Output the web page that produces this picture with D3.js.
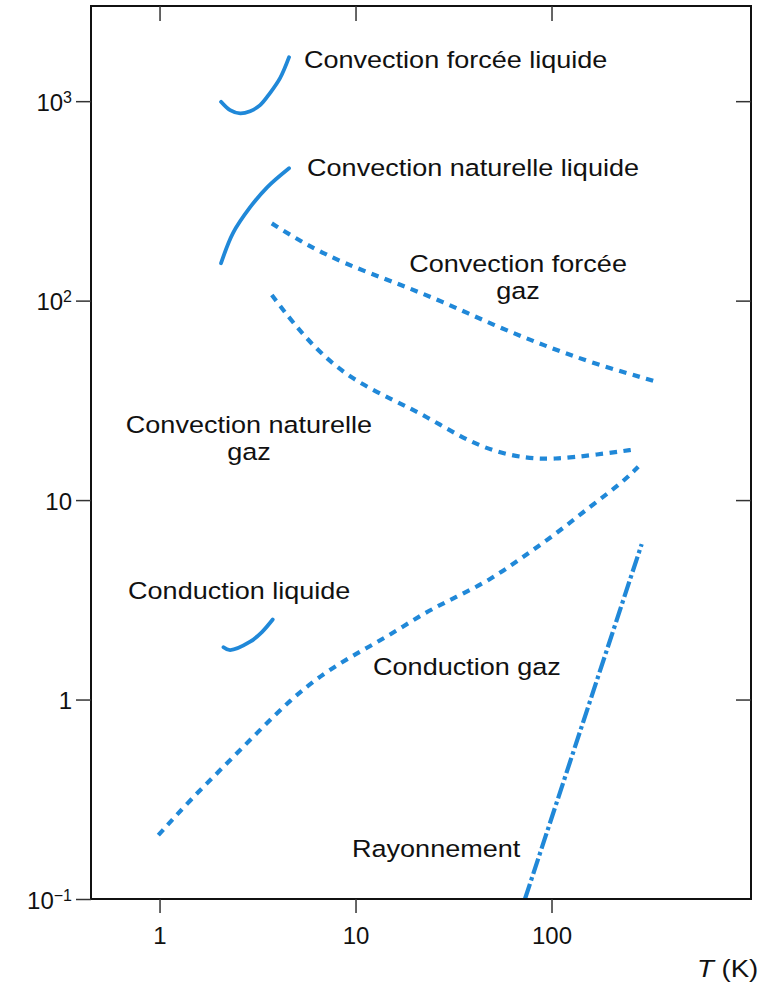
<!DOCTYPE html>
<html>
<head>
<meta charset="utf-8">
<script src="https://cdn.jsdelivr.net/npm/d3@7"></script>
<style>
  html, body { margin: 0; padding: 0; background: #ffffff; }
  svg { display: block; }
  text { font-family: "Liberation Sans", Arial, Helvetica, sans-serif; fill: #111; }
</style>
</head>
<body>
<svg id="chart" width="762" height="983"></svg>
<script>
// Coefficient d'échange thermique en fonction de la température (échelles log-log)

// Convection forcée liquide
const tForceeLiquide = [2.06, 2.29, 2.58, 2.90, 3.26, 3.66, 4.12, 4.58];
const hForceeLiquide = [992, 901, 868, 891, 955, 1097, 1304, 1662];

// Convection naturelle liquide
const tNaturelleLiquide = [2.06, 2.37, 2.90, 3.54, 4.58];
const hNaturelleLiquide = [154, 218, 294, 370, 461];

// Convection forcée gaz
const tForceeGaz = [3.74, 5.42, 8.67, 15.6, 28.1, 50.5, 90.8, 163.5, 344];
const hForceeGaz = [244, 194, 154, 124, 98.6, 75.4, 59.8, 48.4, 39.2];

// Convection naturelle gaz
const tNaturelleGaz = [3.74, 4.82, 6.59, 9.74, 15.6, 23.1, 34.1, 50.5, 74.7, 102, 163.5, 272];
const hNaturelleGaz = [106.6, 76.9, 54.4, 39.9, 31.7, 26.2, 20.8, 17.5, 16.2, 16.0, 16.8, 18.0];

// Conduction liquide
const tConductionLiquide = [2.12, 2.29, 2.90, 3.33, 3.78];
const hConductionLiquide = [1.83, 1.77, 1.95, 2.18, 2.52];

// Conduction gaz
const tConductionGaz = [0.986, 1.43, 2.12, 3.13, 4.63, 6.85, 10.14, 15.0, 22.2, 32.8, 48.6, 71.8, 106.3, 157, 232, 277];
const hConductionGaz = [0.209, 0.313, 0.460, 0.677, 0.994, 1.353, 1.704, 2.105, 2.705, 3.276, 3.972, 5.196, 6.81, 9.26, 12.35, 14.69];

// Rayonnement
const tRayonnement = [73.2, 288.5];
const hRayonnement = [0.1, 6.02];

// Axes
const xTickValues = [1, 10, 100];
const xTickLabels = ["1", "10", "100"];
const yTickValues = [0.1, 1, 10, 100, 1000];
const yTickBases = ["10", "1", "10", "10", "10"];
const yTickExponents = ["\u22121", "", "", "2", "3"];
const xAxisTitle = ["T", " (K)"];

// Libellés des courbes (position en T, h)
const labelTexts = [
  ["Convection forcée liquide"],
  ["Convection naturelle liquide"],
  ["Convection forcée", "gaz"],
  ["Convection naturelle", "gaz"],
  ["Conduction liquide"],
  ["Conduction gaz"],
  ["Rayonnement"]
];
const labelAnchors = ["start", "start", "middle", "middle", "start", "start", "start"];
const labelT = [5.46, 5.66, 67.5, 2.86, 0.691, 12.29, 9.60];
const labelH = [1464, 421, 139.4, 21.7, 3.19, 1.327, 0.1624];

const series = [
  { t: tForceeLiquide, h: hForceeLiquide, style: "solid" },
  { t: tNaturelleLiquide, h: hNaturelleLiquide, style: "solid" },
  { t: tForceeGaz, h: hForceeGaz, style: "dashed" },
  { t: tNaturelleGaz, h: hNaturelleGaz, style: "dashed" },
  { t: tConductionLiquide, h: hConductionLiquide, style: "solid" },
  { t: tConductionGaz, h: hConductionGaz, style: "dashed" },
  { t: tRayonnement, h: hRayonnement, style: "dashdot" }
];

const blue = "#2088d8";
const styles = {
  solid:   { width: 3.8, dash: null, curve: d3.curveCatmullRom.alpha(0.5) },
  dashed:  { width: 4.2, dash: "7.5,6.5", curve: d3.curveBasis },
  dashdot: { width: 4.2, dash: "16,3.5,3.5,3.5", curve: d3.curveLinear }
};

const plot = { left: 91, right: 751, top: 6, bottom: 899 };

const x = d3.scaleLog().domain([0.447, 1042]).range([plot.left, plot.right]);
const y = d3.scaleLog().domain([0.1, 3000]).range([plot.bottom, plot.top]);

const svg = d3.select("#chart");

// Courbes
const gCurves = svg.append("g");
series.forEach(s => {
  const st = styles[s.style];
  const pts = s.t.map((t, i) => [t, s.h[i]]);
  const line = d3.line().x(d => x(d[0])).y(d => y(d[1])).curve(st.curve);
  gCurves.append("path")
    .attr("d", line(pts))
    .attr("fill", "none")
    .attr("stroke", blue)
    .attr("stroke-width", st.width)
    .attr("stroke-linecap", st.dash ? "butt" : "round")
    .attr("stroke-dasharray", st.dash);
});

// Cadre
svg.append("rect")
  .attr("x", plot.left).attr("y", plot.top)
  .attr("width", plot.right - plot.left).attr("height", plot.bottom - plot.top)
  .attr("fill", "none").attr("stroke", "#111").attr("stroke-width", 2);

function styleAxis(g) {
  g.select(".domain").remove();
  g.selectAll(".tick line").attr("stroke", "#333").attr("stroke-width", 1.5);
}

// Axe gauche avec puissances de dix
const yAxisLeft = svg.append("g")
  .attr("transform", `translate(${plot.left},0)`)
  .call(d3.axisLeft(y).tickValues(yTickValues).tickSize(15).tickPadding(4).tickFormat(""));
styleAxis(yAxisLeft);
yAxisLeft.selectAll(".tick text").each(function(d, i) {
  const t = d3.select(this)
    .attr("font-size", 24).attr("dy", "0.38em").attr("text-anchor", "end")
    .attr("font-family", null).attr("fill", "#111");
  t.text(null);
  t.append("tspan").text(yTickBases[i]);
  if (yTickExponents[i]) {
    t.append("tspan").attr("font-size", 16).attr("dy", -8).text(yTickExponents[i]);
  }
});

// Axe droit (graduations intérieures)
const yAxisRight = svg.append("g")
  .attr("transform", `translate(${plot.right},0)`)
  .call(d3.axisLeft(y).tickValues(yTickValues.slice(1)).tickSize(15).tickFormat(""));
styleAxis(yAxisRight);
yAxisRight.selectAll(".tick text").remove();

// Axe bas
const xAxisBottom = svg.append("g")
  .attr("transform", `translate(0,${plot.bottom})`)
  .call(d3.axisBottom(x).tickValues(xTickValues).tickSize(14).tickFormat((d, i) => xTickLabels[i]));
styleAxis(xAxisBottom);
xAxisBottom.selectAll(".tick text")
  .attr("font-size", 24).attr("font-family", null).attr("fill", "#111")
  .attr("y", 45).attr("dy", 0);

// Axe haut (graduations intérieures)
const xAxisTop = svg.append("g")
  .attr("transform", `translate(0,${plot.top})`)
  .call(d3.axisBottom(x).tickValues(xTickValues).tickSize(15).tickFormat(""));
styleAxis(xAxisTop);
xAxisTop.selectAll(".tick text").remove();

// Titre de l'axe des abscisses
const xTitle = svg.append("g").attr("transform", "translate(697,977) scale(1.15,1)")
  .append("text").attr("font-size", 24);
xTitle.append("tspan").attr("font-style", "italic").text(xAxisTitle[0]);
xTitle.append("tspan").text(xAxisTitle[1]);

// Libellés des courbes
labelTexts.forEach((lines, k) => {
  const g = svg.append("g")
    .attr("transform", `translate(${x(labelT[k])},${y(labelH[k])}) scale(1.15,1)`);
  lines.forEach((txt, i) => {
    g.append("text")
      .attr("font-size", 23.5)
      .attr("text-anchor", labelAnchors[k])
      .attr("y", i * 27)
      .text(txt);
  });
});
</script>
</body>
</html>
